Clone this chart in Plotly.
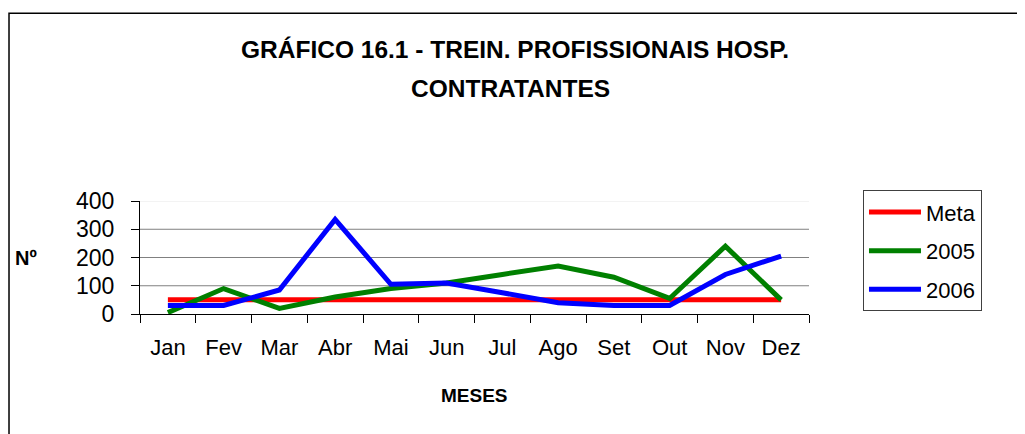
import plotly.graph_objects as go

# dados do grafico
meses = ["Jan", "Fev", "Mar", "Abr", "Mai", "Jun", "Jul", "Ago", "Set", "Out", "Nov", "Dez"]
meta = [50, 50, 50, 50, 50, 50, 50, 50, 50, 50, 50, 50]
ano_2005 = [5, 90, 20, 60, 90, 110, 140, 170, 130, 55, 240, 50]
ano_2006 = [30, 30, 85, 335, 105, 110, 75, 40, 30, 30, 140, 205]
y_ticks = [0, 100, 200, 300, 400]

FONT = "Liberation Sans, Arial, sans-serif"

fig = go.Figure()
fig.add_trace(go.Scatter(x=meses, y=meta, name="Meta", mode="lines", legendgroup="a",
                         line=dict(color="#FF0000", width=5)))
fig.add_trace(go.Scatter(x=meses, y=ano_2005, name="2005", mode="lines", legendgroup="b",
                         line=dict(color="#008000", width=5)))
fig.add_trace(go.Scatter(x=meses, y=ano_2006, name="2006", mode="lines", legendgroup="c",
                         line=dict(color="#0000FF", width=5)))

# linhas de grade (a de 400 bem clara)
shapes = []
for v in y_ticks[1:-1]:
    shapes.append(dict(type="line", xref="paper", yref="y", x0=0, x1=1, y0=v, y1=v,
                       line=dict(color="#808080", width=1), layer="below"))
shapes.append(dict(type="line", xref="paper", yref="y", x0=0, x1=1, y0=400, y1=400,
                   line=dict(color="#e8e8e8", width=1), layer="below"))
# moldura do grafico
shapes.append(dict(type="rect", xref="paper", yref="paper", x0=-0.1958, x1=1.35, y0=-1.2, y1=2.661,
                   line=dict(color="black", width=1.5), fillcolor="rgba(0,0,0,0)"))

# a pagina tem margem de 8px no body, por isso a figura e 8px menor
fig.update_layout(
    width=1017, height=426,
    margin=dict(l=132, r=216, t=193, b=120),
    paper_bgcolor="white", plot_bgcolor="white",
    font=dict(family=FONT, color="black", size=21),
    showlegend=True,
    legend=dict(x=1.0807, y=1.095, xanchor="left", yanchor="top",
                bgcolor="white", bordercolor="#404040", borderwidth=1,
                tracegroupgap=7, itemwidth=52, entrywidth=68,
                font=dict(size=22, family=FONT)),
    shapes=shapes,
    annotations=[
        dict(text="<b>GRÁFICO 16.1 - TREIN. PROFISSIONAIS HOSP.</b>", xref="paper", yref="paper",
             x=(515 - 140) / 669, y=(314.3 - 48) / 113.6, showarrow=False,
             xanchor="center", yanchor="middle", font=dict(size=24.5, family=FONT)),
        dict(text="<b>CONTRATANTES</b>", xref="paper", yref="paper",
             x=(510 - 140) / 669, y=(314.3 - 88) / 113.6, showarrow=False,
             xanchor="center", yanchor="middle", font=dict(size=24.5, family=FONT)),
        dict(text="<b>MESES</b>", xref="paper", yref="paper",
             x=0.5, y=(314.3 - 396) / 113.6, showarrow=False,
             xanchor="center", yanchor="middle", font=dict(size=19, family=FONT)),
        dict(text="<b>Nº</b>", xref="paper", yref="paper",
             x=(26 - 140) / 669, y=(314.3 - 258) / 113.6, showarrow=False,
             xanchor="center", yanchor="middle", font=dict(size=20, family=FONT)),
    ],
)

fig.update_xaxes(
    type="category", range=[-0.5, 11.5], tickson="boundaries",
    showline=True, linecolor="black", linewidth=1,
    ticks="outside", ticklen=8, tickcolor="black",
    showgrid=False, zeroline=False, ticklabelstandoff=14,
    tickfont=dict(size=22),
)
fig.update_yaxes(
    range=[0, 400], tickvals=y_ticks,
    showline=True, linecolor="black", linewidth=1,
    ticks="outside", ticklen=8, tickcolor="black",
    showgrid=False, zeroline=False, ticklabelstandoff=12,
    tickfont=dict(size=23),
)

fig.write_html("out.html")
